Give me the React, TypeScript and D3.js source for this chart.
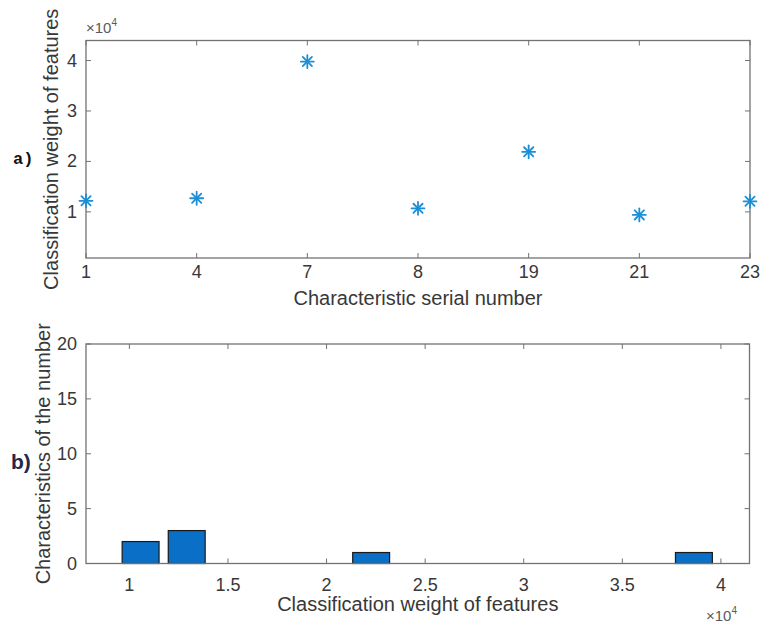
import React from "react";
import * as d3 from "d3";

// Feature serial numbers and their classification weights
const serialNumbers: string[] = ["1", "4", "7", "8", "19", "21", "23"];
const featureWeights: number[] = [12200, 12700, 39800, 10700, 21900, 9400, 12100];

// Axis ticks
const weightTicks: number[] = [10000, 20000, 30000, 40000];
const histXTicks: number[] = [10000, 15000, 20000, 25000, 30000, 35000, 40000];
const histYTicks: number[] = [0, 5, 10, 15, 20];
const histBinCount = 13;

const W = 761;
const H = 625;

const axisColor = "#727272";
const textColor = "#383838";
const markerColor = "#1a8fd8";
const barColor = "#0a6fc6";
const font = "Liberation Sans, Arial, sans-serif";
const tickFont = 18;

function Asterisk({ x, y, r }: { x: number; y: number; r: number }) {
  const d = r * Math.SQRT1_2;
  return (
    <g stroke={markerColor} strokeWidth={1.8} strokeLinecap="round">
      <line x1={x - r} y1={y} x2={x + r} y2={y} />
      <line x1={x} y1={y - r} x2={x} y2={y + r} />
      <line x1={x - d} y1={y - d} x2={x + d} y2={y + d} />
      <line x1={x - d} y1={y + d} x2={x + d} y2={y - d} />
    </g>
  );
}

function TimesTen({ x, y }: { x: number; y: number }) {
  return (
    <text x={x} y={y} fontFamily={font} fontSize={15} fill="#5a5a5a">
      ×10
      <tspan fontSize={10} dy={-7}>4</tspan>
    </text>
  );
}

export default function App() {
  // ---- Top panel: weight per feature ----
  const top = { left: 86, right: 750, top: 40.5, bottom: 258 };
  const xCat = d3
    .scalePoint<string>()
    .domain(serialNumbers)
    .range([top.left, top.right]);
  const yW = d3.scaleLinear().domain([860, 43970]).range([top.bottom, top.top]);
  const tickLen = 5;

  // ---- Bottom panel: histogram of weights ----
  const bot = { left: 86, right: 749.5, top: 344, bottom: 563.5 };
  const xH = d3.scaleLinear().domain([7800, 41450]).range([bot.left, bot.right]);
  const yH = d3.scaleLinear().domain([0, 20]).range([bot.bottom, bot.top]);

  const [wMin, wMax] = d3.extent(featureWeights) as [number, number];
  const binW = (wMax - wMin) / histBinCount;
  const bins = d3
    .bin()
    .domain([wMin, wMax])
    .thresholds(d3.range(1, histBinCount).map((i) => wMin + i * binW))(featureWeights);

  return (
    <svg
      width={W}
      height={H}
      viewBox={`0 0 ${W} ${H}`}
      style={{ position: "absolute", left: 0, top: 0, background: "#fff" }}
    >
      <rect x={0} y={0} width={W} height={H} fill="#fff" />

      {/* ===== Panel a ===== */}
      <g>
        {serialNumbers.map((s) => {
          const x = xCat(s)!;
          return (
            <g key={"xt" + s} stroke={axisColor} strokeWidth={1}>
              <line x1={x} x2={x} y1={top.bottom} y2={top.bottom - tickLen} />
              <line x1={x} x2={x} y1={top.top} y2={top.top + tickLen} />
            </g>
          );
        })}
        {weightTicks.map((t) => {
          const y = yW(t);
          return (
            <g key={"yt" + t} stroke={axisColor} strokeWidth={1}>
              <line x1={top.left} x2={top.left + tickLen} y1={y} y2={y} />
              <line x1={top.right} x2={top.right - tickLen} y1={y} y2={y} />
            </g>
          );
        })}
        <rect
          x={top.left}
          y={top.top}
          width={top.right - top.left}
          height={top.bottom - top.top}
          fill="none"
          stroke={axisColor}
          strokeWidth={1.3}
        />
        {serialNumbers.map((s) => (
          <text
            key={"xl" + s}
            x={xCat(s)!}
            y={top.bottom + 20}
            textAnchor="middle"
            fontFamily={font}
            fontSize={tickFont}
            fill={textColor}
          >
            {s}
          </text>
        ))}
        {weightTicks.map((t) => (
          <text
            key={"yl" + t}
            x={top.left - 9}
            y={yW(t) + 6}
            textAnchor="end"
            fontFamily={font}
            fontSize={tickFont}
            fill={textColor}
          >
            {t / 10000}
          </text>
        ))}
        <TimesTen x={86} y={33} />
        {featureWeights.map((v, i) => (
          <Asterisk key={"m" + i} x={xCat(serialNumbers[i])!} y={yW(v)} r={6.5} />
        ))}
        <text
          x={(top.left + top.right) / 2}
          y={305}
          textAnchor="middle"
          fontFamily={font}
          fontSize={20}
          fill={textColor}
        >
          Characteristic serial number
        </text>
        <text
          transform={`translate(58,${(top.top + top.bottom) / 2}) rotate(-90)`}
          textAnchor="middle"
          fontFamily={font}
          fontSize={20}
          fill={textColor}
        >
          Classification weight of features
        </text>
        <text
          x={13}
          y={164}
          fontFamily="Liberation Mono, Courier New, monospace"
          fontWeight="bold"
          fontSize={17}
          fill="#111"
        >
          a)
        </text>
      </g>

      {/* ===== Panel b ===== */}
      <g>
        {histXTicks.map((t) => {
          const x = xH(t);
          return (
            <g key={"hx" + t} stroke={axisColor} strokeWidth={1}>
              <line x1={x} x2={x} y1={bot.bottom} y2={bot.bottom - tickLen} />
              <line x1={x} x2={x} y1={bot.top} y2={bot.top + tickLen} />
            </g>
          );
        })}
        {histYTicks.map((t) => {
          const y = yH(t);
          return (
            <g key={"hy" + t} stroke={axisColor} strokeWidth={1}>
              <line x1={bot.left} x2={bot.left + tickLen} y1={y} y2={y} />
              <line x1={bot.right} x2={bot.right - tickLen} y1={y} y2={y} />
            </g>
          );
        })}
        {bins
          .filter((b) => b.length > 0)
          .map((b, i) => {
            const c = ((b.x0 as number) + (b.x1 as number)) / 2;
            const x0 = xH(c - 0.4 * binW);
            const x1 = xH(c + 0.4 * binW);
            return (
              <rect
                key={"bar" + i}
                x={x0}
                y={yH(b.length)}
                width={x1 - x0}
                height={yH(0) - yH(b.length)}
                fill={barColor}
                stroke="#1a1a1a"
                strokeWidth={1.2}
              />
            );
          })}
        <rect
          x={bot.left}
          y={bot.top}
          width={bot.right - bot.left}
          height={bot.bottom - bot.top}
          fill="none"
          stroke={axisColor}
          strokeWidth={1.3}
        />
        {histXTicks.map((t) => (
          <text
            key={"hxl" + t}
            x={xH(t)}
            y={bot.bottom + 27}
            textAnchor="middle"
            fontFamily={font}
            fontSize={tickFont}
            fill={textColor}
          >
            {d3.format("~g")(t / 10000)}
          </text>
        ))}
        {histYTicks.map((t) => (
          <text
            key={"hyl" + t}
            x={bot.left - 9}
            y={yH(t) + 6}
            textAnchor="end"
            fontFamily={font}
            fontSize={tickFont}
            fill={textColor}
          >
            {t}
          </text>
        ))}
        <TimesTen x={706} y={621} />
        <text
          x={(bot.left + bot.right) / 2}
          y={611}
          textAnchor="middle"
          fontFamily={font}
          fontSize={20}
          fill={textColor}
        >
          Classification weight of features
        </text>
        <text
          transform={`translate(50,${(bot.top + bot.bottom) / 2}) rotate(-90)`}
          textAnchor="middle"
          fontFamily={font}
          fontSize={20}
          fill={textColor}
        >
          Characteristics of the number
        </text>
        <text
          x={11}
          y={469}
          fontFamily="Liberation Sans, Arial, sans-serif"
          fontWeight="bold"
          fontSize={21}
          fill="#26264a"
        >
          b)
        </text>
      </g>
    </svg>
  );
}
